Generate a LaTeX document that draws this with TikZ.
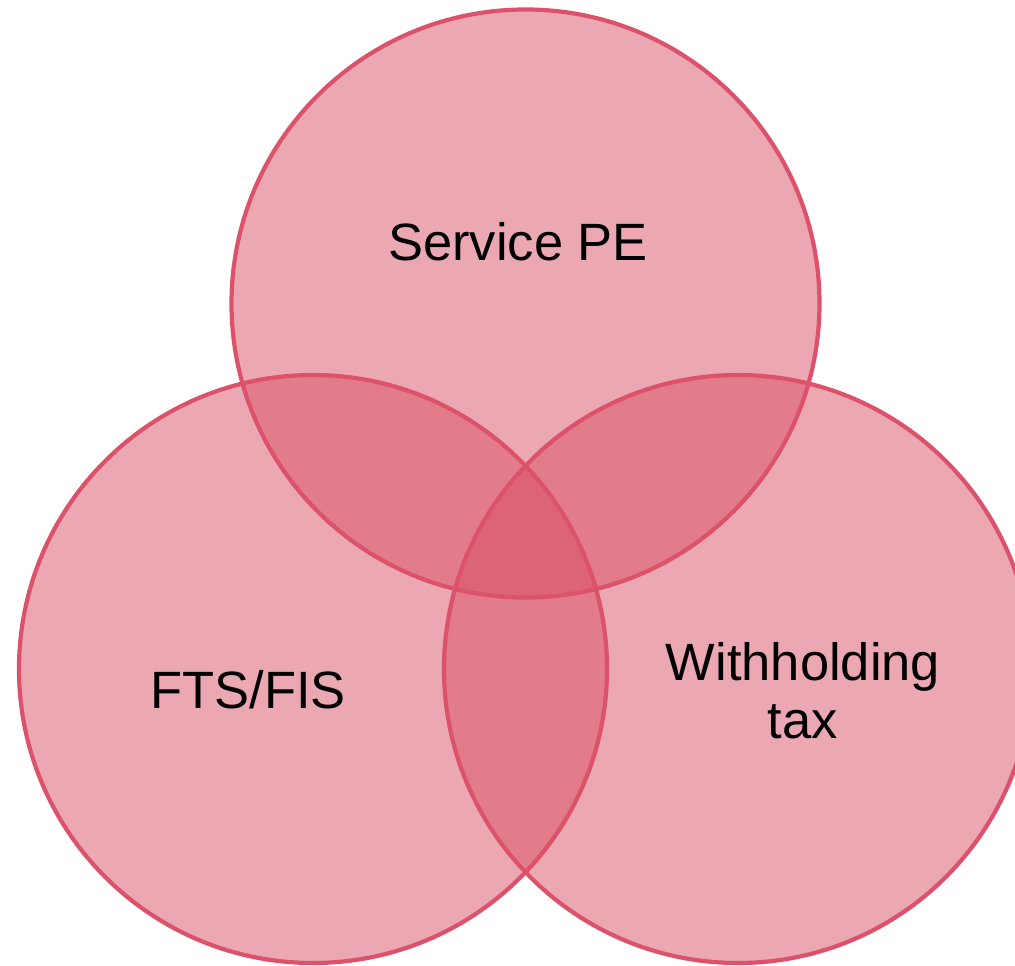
\documentclass[tikz,border=0pt]{standalone}
\usepackage{fontspec}
\setmainfont{Liberation Sans}
\definecolor{vfill}{RGB}{215,74,95}
\definecolor{vline}{RGB}{220,82,107}
\tikzset{
  setfill/.style={fill=vfill, fill opacity=0.48, draw=none},
  setline/.style={draw=vline, line width=4.2pt},
  label/.style={font=\fontsize{52.5}{58}\selectfont, text=black, align=center, inner sep=0pt}
}
\begin{document}
\begin{tikzpicture}[x=1pt,y=-1pt]
\useasboundingbox (0,0) rectangle (1015,966);
\coordinate (ct) at (525.5,303.5);
\coordinate (cl) at (313,669);
\coordinate (cr) at (738,669);
\fill[setfill] (ct) circle[radius=294];
\fill[setfill] (cl) circle[radius=294];
\fill[setfill] (cr) circle[radius=294];
\draw[setline] (ct) circle[radius=294];
\draw[setline] (cl) circle[radius=294];
\draw[setline] (cr) circle[radius=294];
\node[label] (service) at (518,242) {Service PE};
\node[label] (fts) at (248,690) {FTS/FIS};
\node[label] (wht) at (803,691) {Withholding\\tax};
\end{tikzpicture}
\end{document}
